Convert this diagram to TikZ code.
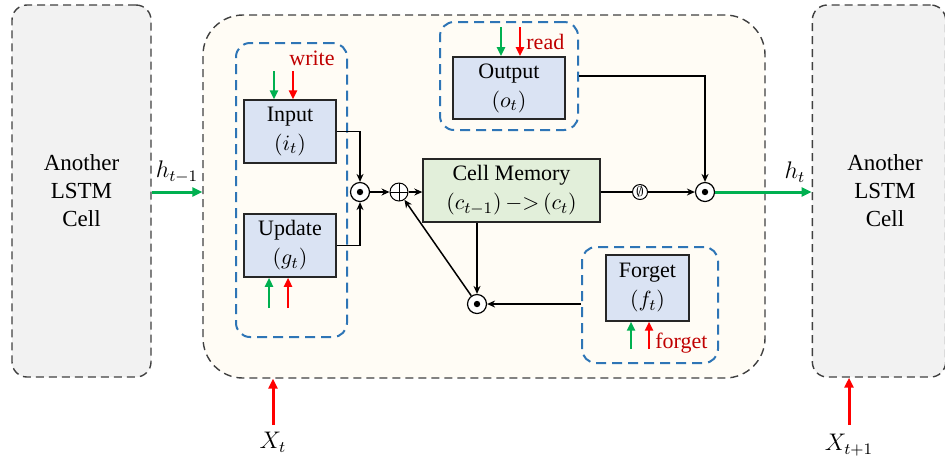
\documentclass[tikz,border=0pt]{standalone}
\usepackage{fontspec}
\setmainfont{Liberation Serif}
\usetikzlibrary{arrows.meta}
\definecolor{cellgray}{HTML}{F2F2F2}
\definecolor{cream}{HTML}{FFFCF5}
\definecolor{gateblue}{HTML}{DAE3F3}
\definecolor{memgreen}{HTML}{E2EFDA}
\definecolor{dashblue}{HTML}{2E75B6}
\definecolor{lgreen}{HTML}{00B050}
\definecolor{lred}{HTML}{FF0000}
\definecolor{tred}{HTML}{C00000}
\definecolor{bordergray}{HTML}{404040}
\tikzset{
  cellbox/.style={draw=bordergray, line width=0.7pt, dash pattern=on 4pt off 2.5pt, rounded corners=7.5pt, fill=cellgray, align=center, font=\fontsize{11.5}{14}\selectfont},
  mainbox/.style={draw=bordergray, line width=0.7pt, dash pattern=on 4pt off 2.5pt, rounded corners=20pt, fill=cream},
  grp/.style={draw=dashblue, line width=1pt, dash pattern=on 5pt off 3pt, rounded corners=7pt},
  gate/.style={draw=black!85, line width=0.7pt, fill=gateblue, align=center, font=\fontsize{11}{14.5}\selectfont},
  mem/.style={draw=black!85, line width=0.7pt, fill=memgreen, align=center, font=\fontsize{11}{14.5}\selectfont},
  odotn/.style={circle, draw=black, line width=0.6pt, fill=white, minimum size=9.5pt, inner sep=0pt,
    path picture={\fill[black] (path picture bounding box.center) circle (1.6pt);}},
  oplusn/.style={circle, draw=black, line width=0.5pt, fill=white, minimum size=9pt, inner sep=0pt,
    path picture={\draw[line width=0.4pt] (path picture bounding box.north) -- (path picture bounding box.south) (path picture bounding box.west) -- (path picture bounding box.east);}},
  esn/.style={circle, draw=black, line width=0.5pt, fill=white, minimum size=7.5pt, inner sep=0pt, font=\scriptsize},
  arr/.style={draw=black, line width=0.75pt, -{Stealth[length=4pt,width=3.5pt]}},
  ln/.style={draw=black, line width=0.75pt},
  garr/.style={draw=lgreen, line width=1.5pt, -{Triangle[length=5pt,width=4.5pt]}},
  rarr/.style={draw=lred, line width=1.5pt, -{Triangle[length=5pt,width=4.5pt]}},
  sgarr/.style={draw=lgreen, line width=1.3pt, -{Triangle[length=4.5pt,width=4pt]}},
  srarr/.style={draw=lred, line width=1.3pt, -{Triangle[length=4.5pt,width=4pt]}},
  redlbl/.style={text=tred, font=\fontsize{11}{13}\selectfont, inner sep=0pt},
  mlbl/.style={font=\fontsize{12}{13}\selectfont, inner sep=0pt}
}
\begin{document}
\begin{tikzpicture}[x=0.5pt,y=-0.5pt]
\useasboundingbox (0,0) rectangle (945,463);
% outer cells
\node[cellbox, minimum width=69.5pt, minimum height=186pt] (lc) at (81.5,191) {Another\\LSTM\\Cell};
\node[cellbox, minimum width=64pt, minimum height=186pt, text width=60pt] (rc) at (879,191) {\hspace*{6pt}Another\\\hspace*{6pt}LSTM\\\hspace*{6pt}Cell};
\node[mainbox, minimum width=281pt, minimum height=181.5pt] (mc) at (484,196.5) {};
% groups
\node[grp, minimum width=55.5pt, minimum height=147pt] (wg) at (291.5,190) {};
\node[grp, minimum width=69pt, minimum height=54pt] (og) at (509,76) {};
\node[grp, minimum width=68pt, minimum height=58pt] (fg) at (650,305) {};
% gates
\node[gate, minimum width=46pt, minimum height=31.5pt] (inp) at (290,131.5) {Input\\$(i_t)$};
\node[gate, minimum width=46pt, minimum height=31.5pt] (upd) at (290,245.5) {Update\\$(g_t)$};
\node[gate, minimum width=56pt, minimum height=31pt] (out) at (509,88) {Output\\$(o_t)$};
\node[gate, minimum width=41.5pt, minimum height=33pt] (fgt) at (647.5,288) {Forget\\$(f_t)$};
\node[mem, minimum width=88.5pt, minimum height=31.5pt] (cm) at (511.5,190.5) {Cell Memory\\$(c_{t-1})\,{-}{>}\,(c_t)$};
% operators
\node[odotn] (od1) at (360,192) {};
\node[oplusn] (op) at (399,192) {};
\node[odotn] (od2) at (477,304) {};
\node[esn] (es) at (640,192) {$\emptyset$};
\node[odotn] (od3) at (705,192) {};
% labels
\node[redlbl] (lw) at (312,58) {write};
\node[redlbl, anchor=west] (lr) at (526,42) {read};
\node[redlbl, anchor=west] (lf) at (655,343) {forget};
\node[mlbl] (lh1) at (177,172) {$h_{t-1}$};
\node[mlbl] (lh) at (795,172) {$h_t$};
\node[mlbl] (lx) at (273,442) {$X_t$};
\node[mlbl] (lx1) at (849,445) {$X_{t+1}$};
% coordinates for small arrows
\coordinate (ig) at (274,71); \coordinate (ir) at (293,71);
\coordinate (ug) at (269,308); \coordinate (ur) at (288,308);
\coordinate (og1) at (501,27); \coordinate (or1) at (520,27);
\coordinate (fg1) at (631,349); \coordinate (fr1) at (649,349);
\coordinate (xt) at (273,425); \coordinate (xt1) at (849,425);
\draw[sgarr] (ig) -- (ig |- inp.north);
\draw[srarr] (ir) -- (ir |- inp.north);
\draw[sgarr] (ug) -- (ug |- upd.south);
\draw[srarr] (ur) -- (ur |- upd.south);
\draw[sgarr] (og1) -- (og1 |- out.north);
\draw[srarr] (or1) -- (or1 |- out.north);
\draw[sgarr] (fg1) -- (fg1 |- fgt.south);
\draw[srarr] (fr1) -- (fr1 |- fgt.south);
\draw[rarr] (xt) -- (xt |- mc.south);
\draw[rarr] (xt1) -- (xt1 |- rc.south);
% flow
\draw[garr] (lc.east |- od1) -- (mc.west |- od1);
\draw[arr] (inp.east) -| (od1.north);
\draw[arr] (upd.east) -| (od1.south);
\draw[arr] (od1) -- (op);
\draw[arr] (op) -- (cm.west |- op);
\draw[arr] (od2 |- cm.south) -- (od2);
\draw[arr] (fg.west |- od2) -- (od2);
\draw[arr] (od2) -- (op);
\draw[ln] (cm.east |- es) -- (es);
\draw[arr] (es) -- (od3);
\draw[arr] (og.east) -| (od3.north);
\draw[garr] (od3) -- (rc.west |- od3);
\end{tikzpicture}
\end{document}
